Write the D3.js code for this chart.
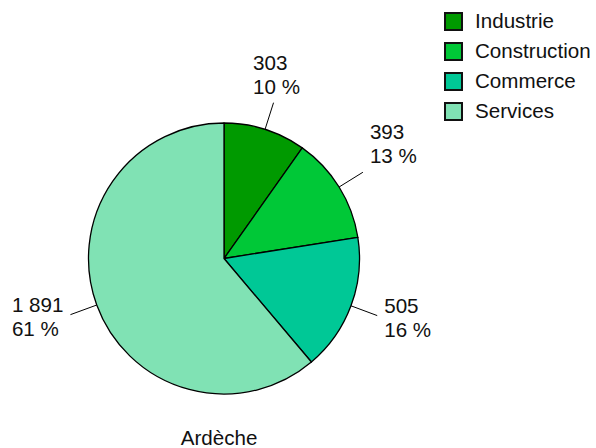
<!DOCTYPE html>
<html><head><meta charset="utf-8">
<script src="https://cdn.jsdelivr.net/npm/d3@7"></script>
<style>body{margin:0;background:#fff}svg{display:block}text{font-family:"Liberation Sans",Arial,sans-serif;fill:#111}</style>
</head><body><svg id="c" width="596" height="448"></svg>
<script>
const categories = ["Industrie", "Construction", "Commerce", "Services"];
const values = [303, 393, 505, 1891];
const labels = ["303", "393", "505", "1 891"];
const colors = ["#009a00", "#00c837", "#00c896", "#80e2b4"];
const title = "Ardèche";

const svg = d3.select("#c");
const cx = 224, cy = 258.5, r = 135.5, lead = 28;
const total = d3.sum(values);
const pie = d3.pie().sort(null).value(d => d)(values);
const arc = d3.arc().innerRadius(0).outerRadius(r);
const g = svg.append("g").attr("transform", `translate(${cx},${cy})`);
g.selectAll("path").data(pie).join("path")
  .attr("d", arc).attr("fill", (d, i) => colors[i])
  .attr("stroke", "#000").attr("stroke-width", 1.3).attr("stroke-linejoin", "round");

const fs = 20.6, lh = 24;
pie.forEach((d, i) => {
  const a = (d.startAngle + d.endAngle) / 2;
  const s = Math.sin(a), c = Math.cos(a);
  const x0 = s * r, y0 = -c * r, x1 = s * (r + lead), y1 = -c * (r + lead);
  g.append("line").attr("x1", x0).attr("y1", y0).attr("x2", x1).attr("y2", y1)
    .attr("stroke", "#000").attr("stroke-width", 1);
  const pct = Math.round(d.value / total * 100) + " %";
  const t = g.append("text").style("font-size", fs + "px");
  const l1 = t.append("tspan").text(labels[i]);
  const l2 = t.append("tspan").text(pct);
  const w = Math.max(l1.node().getComputedTextLength(), l2.node().getComputedTextLength());
  let left;
  if (s > 0.4) left = x1 + 7; else if (s < -0.4) left = x1 - 7 - w; else left = x1 - w / 2 + 3;
  let b1;
  if (c > 0.4) b1 = y1 - 9 - lh; else if (c < -0.4) b1 = y1 + 18; else b1 = y1 - 3;
  l1.attr("x", left).attr("y", b1);
  l2.attr("x", left).attr("y", b1 + lh);
});

const lg = svg.append("g");
categories.forEach((name, i) => {
  lg.append("rect").attr("x", 445).attr("y", 13 + i * 30).attr("width", 17).attr("height", 17)
    .attr("fill", colors[i]).attr("stroke", "#111").attr("stroke-width", 2);
  lg.append("text").attr("x", 475).attr("y", 27.5 + i * 30).style("font-size", fs + "px").text(name);
});

svg.append("text").attr("x", 219).attr("y", 445).attr("text-anchor", "middle")
  .style("font-size", fs + "px").text(title);
</script></body></html>
